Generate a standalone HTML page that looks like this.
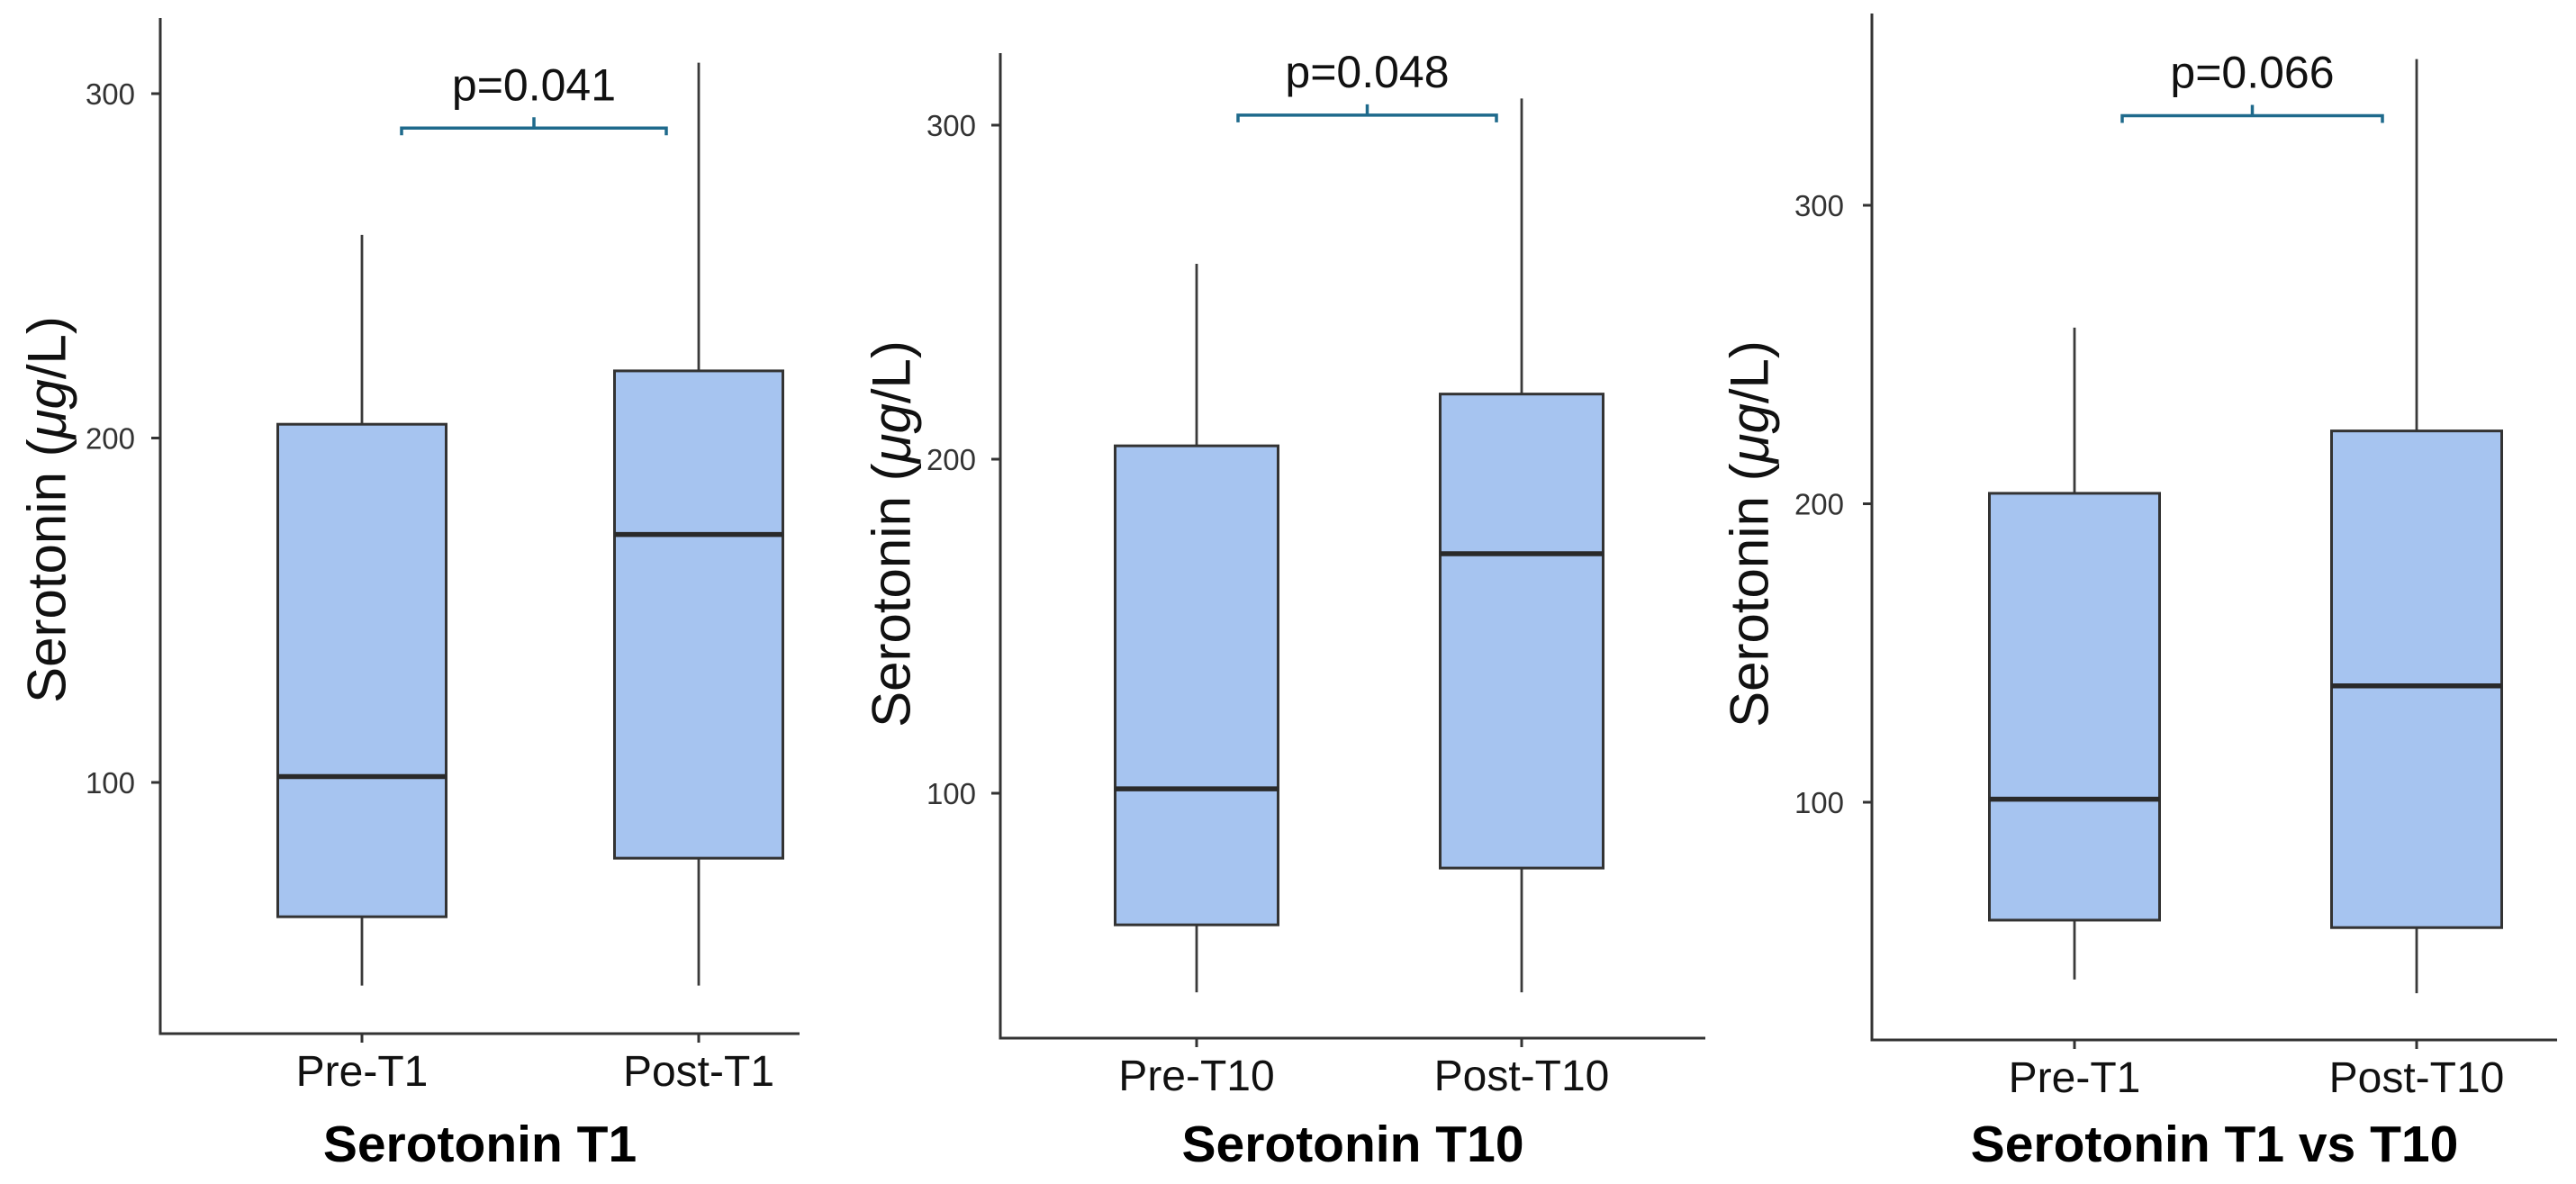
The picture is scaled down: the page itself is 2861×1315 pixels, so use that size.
<!DOCTYPE html>
<html><head><meta charset="utf-8"><style>
html,body{margin:0;padding:0;background:#fff;}
svg{display:block;font-family:"Liberation Sans",sans-serif;}
</style></head><body>
<svg id="chart" width="2861" height="1315" viewBox="0 0 2861 1315" xmlns="http://www.w3.org/2000/svg"></svg>
<script>
// Data arrays
const panelTitles = ["Serotonin T1", "Serotonin T10", "Serotonin T1 vs T10"];
const categoriesP1 = ["Pre-T1", "Post-T1"];
const categoriesP2 = ["Pre-T10", "Post-T10"];
const categoriesP3 = ["Pre-T1", "Post-T10"];
const whiskerLowP1 = [41, 41];
const q1P1 = [61, 78];
const medianP1 = [101.7, 172];
const q3P1 = [204, 219.5];
const whiskerHighP1 = [259, 309];
const whiskerLowP2 = [40.4, 40.4];
const q1P2 = [60.6, 77.6];
const medianP2 = [101.3, 171.7];
const q3P2 = [204, 219.5];
const whiskerHighP2 = [258.5, 308];
const whiskerLowP3 = [40.6, 36];
const q1P3 = [60.5, 58];
const medianP3 = [101, 139];
const q3P3 = [203.5, 224.4];
const whiskerHighP3 = [259, 349];
const yTicks = [100, 200, 300];
const pValues = ["p=0.041", "p=0.048", "p=0.066"];
const bracketValues = [290, 303, 330];

// Layout (pixel geometry, not data)
const layouts = [
  {ax:178, top:20, bottom:1148, right:888, y100:869, y300:104, cx:[402,776], bw:187, ylx:52, yly:566, tickR:150, bx:[446,740]},
  {ax:1111, top:59, bottom:1153, right:1894, y100:881, y300:139, cx:[1329,1690], bw:181, ylx:990, yly:593, tickR:1084, bx:[1375,1662]},
  {ax:2079, top:15, bottom:1155, right:2840, y100:891, y300:228, cx:[2304,2684], bw:189, ylx:1943, yly:593, tickR:2048, bx:[2357,2646]}
];
const cats = [categoriesP1, categoriesP2, categoriesP3];
const wl = [whiskerLowP1, whiskerLowP2, whiskerLowP3];
const q1 = [q1P1, q1P2, q1P3];
const md = [medianP1, medianP2, medianP3];
const q3 = [q3P1, q3P2, q3P3];
const wh = [whiskerHighP1, whiskerHighP2, whiskerHighP3];

const NS = "http://www.w3.org/2000/svg";
const svg = document.getElementById("chart");
function mk(tag, attrs, parent){
  const e = document.createElementNS(NS, tag);
  for (const k in attrs) e.setAttribute(k, attrs[k]);
  (parent||svg).appendChild(e);
  return e;
}

layouts.forEach((L, p) => {
  const yScale = v => L.y100 - (v - 100) * (L.y100 - L.y300) / 200;
  const g = mk("g", {});
  
  

  cats[p].forEach((c, i) => {
    const cx = L.cx[i];
    const w = mk("line", {x1:cx, x2:cx, y1:yScale(wh[p][i]), y2:yScale(wl[p][i]), stroke:"#3a3a3a", "stroke-width":2.8}, g);
    
    
    const r = mk("rect", {x:cx - L.bw/2, y:yScale(q3[p][i]), width:L.bw, height:yScale(q1[p][i]) - yScale(q3[p][i]), fill:"#a6c4f0", stroke:"#333", "stroke-width":3}, g);
    
    
    const m = mk("line", {x1:cx - L.bw/2, x2:cx + L.bw/2, y1:yScale(md[p][i]), y2:yScale(md[p][i]), stroke:"#2a2a2a", "stroke-width":5.5}, g);
    
    
    const tk = mk("line", {x1:cx, x2:cx, y1:L.bottom, y2:L.bottom + 10, stroke:"#333", "stroke-width":3}, g);
    
    
    const tl = mk("text", {x:cx, y:L.bottom + 58, "text-anchor":"middle", "font-size":48, fill:"#111"}, g);
    tl.textContent = c;
    
    
  });

  const ya = mk("line", {x1:L.ax, x2:L.ax, y1:L.top, y2:L.bottom + 1.5, stroke:"#333", "stroke-width":3}, g);
  
  
  const xa = mk("line", {x1:L.ax - 1.5, x2:L.right, y1:L.bottom, y2:L.bottom, stroke:"#333", "stroke-width":3}, g);
  
  

  yTicks.forEach(t => {
    const yy = yScale(t);
    const tk = mk("line", {x1:L.ax - 10, x2:L.ax, y1:yy, y2:yy, stroke:"#333", "stroke-width":3}, g);
    
    
    const tl = mk("text", {x:L.tickR, y:yy + 12, "text-anchor":"end", "font-size":33, fill:"#333"}, g);
    tl.textContent = t;
    
    
  });

  const yl = mk("text", {x:L.ylx, y:L.yly, "text-anchor":"middle", "dominant-baseline":"central", "font-size":60, fill:"#111", transform:"rotate(-90 " + L.ylx + " " + L.yly + ")"}, g);
  
  
  yl.appendChild(document.createTextNode("Serotonin ("));
  const it = mk("tspan", {"font-style":"italic"}, yl);
  it.textContent = "μg";
  yl.appendChild(document.createTextNode("/L)"));

  const tt = mk("text", {x:(L.ax + L.right)/2, y:1290, "text-anchor":"middle", "font-size":57, "font-weight":"bold", fill:"#000"}, g);
  tt.textContent = panelTitles[p];
  
  

  const by = yScale(bracketValues[p]);
  const bx0 = L.bx[0], bx1 = L.bx[1], bmid = (bx0 + bx1) / 2;
  const br = mk("path", {d:"M" + bx0 + " " + (by + 8) + " V" + by + " H" + bx1 + " V" + (by + 8) + " M" + bmid + " " + by + " V" + (by - 12), fill:"none", stroke:"#1f6a8c", "stroke-width":3.5}, g);
  
  
  const pv = mk("text", {x:bmid, y:by - 31, "text-anchor":"middle", "font-size":50, fill:"#111"}, g);
  pv.textContent = pValues[p];
  
  
});
</script>
</body></html>
